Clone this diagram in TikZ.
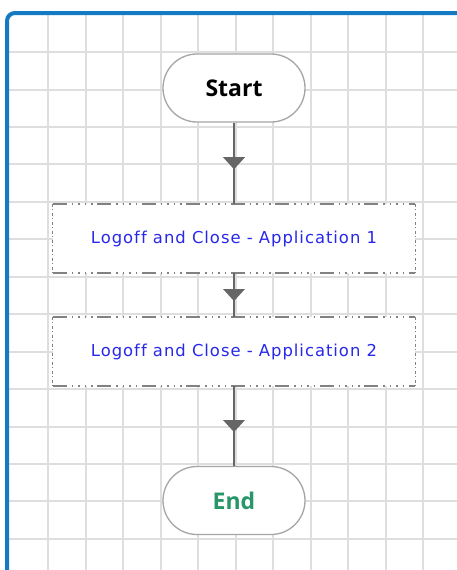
\documentclass[tikz,border=0pt]{standalone}
\usepackage{fontspec}
\newfontfamily\boxfont[LetterSpace=6,Ligatures=NoCommon]{DejaVu Sans}
\newfontfamily\termfont{Open Sans}
\usetikzlibrary{decorations.markings}
\definecolor{frameblue}{RGB}{20,122,196}
\definecolor{gridgray}{RGB}{222,222,222}
\definecolor{edgegray}{RGB}{165,165,165}
\definecolor{dashgray}{RGB}{130,130,130}
\definecolor{arrowgray}{RGB}{102,102,102}
\definecolor{textblue}{RGB}{40,40,235}
\definecolor{endgreen}{RGB}{40,150,105}
\begin{document}
\begin{tikzpicture}[x=1pt,y=-1pt,
  gridline/.style={draw=gridgray, line width=2pt},
  terminal/.style={draw=edgegray, line width=1.3pt, fill=white, rounded corners=34pt,
    minimum width=142pt, minimum height=68pt, inner sep=0pt,
    font=\termfont\bfseries\fontsize{23}{26}\selectfont},
  taskbox/.style={fill=white, minimum width=362pt, minimum height=69pt, inner sep=0pt,
    text=textblue, font=\boxfont\fontsize{16.4}{19}\selectfont},
  hedge/.style={draw=dashgray, line width=1.5pt,
    dash pattern=on 14pt off 5pt on 1.5pt off 5pt on 1.5pt off 5pt on 1.5pt off 5pt on 1.5pt off 4.5pt},
  vedge/.style={draw=dashgray, line width=1.3pt,
    dash pattern=on 3pt off 2.5pt on 1pt off 2.5pt},
  flow/.style={draw=arrowgray, line width=1.5pt, postaction={decorate},
    decoration={markings, mark=at position 0.5 with {\fill[arrowgray] (6,0) -- (-6,11) -- (-6,-11) -- cycle;}}}
]
\useasboundingbox (0,0) rectangle (457,570);
\fill[white] (0,0) rectangle (457,570);
% grid
\foreach \i in {1,...,12} \draw[gridline] ({10.5+37.5*\i},15) -- ({10.5+37.5*\i},570);
\foreach \j in {1,...,15} \draw[gridline] (9,{14.6+37.45*\j}) -- (457,{14.6+37.45*\j});
% frame
\draw[frameblue, line width=4pt, rounded corners=8pt] (7,572) -- (7,13) -- (459,13);
% nodes
\node[terminal] (start) at (234,88) {Start};
\node[taskbox] (b1) at (234,238.5) {\raisebox{-2pt}{Logoff and Close - Application 1}};
\node[taskbox] (b2) at (234,351.5) {\raisebox{-2pt}{Logoff and Close - Application 2}};
\node[terminal, text=endgreen] (end) at (234,500.5) {End};
% box borders
\foreach \b in {b1,b2}{
  \draw[hedge] (\b.north west) -- (\b.north east);
  \draw[hedge] (\b.south west) -- (\b.south east);
  \draw[vedge] (\b.north west) -- (\b.south west);
  \draw[vedge] (\b.north east) -- (\b.south east);
}
% connectors
\draw[flow] (start.south) -- (b1.north);
\draw[flow] (b1.south) -- (b2.north);
\draw[flow] (b2.south) -- (end.north);
\end{tikzpicture}
\end{document}
